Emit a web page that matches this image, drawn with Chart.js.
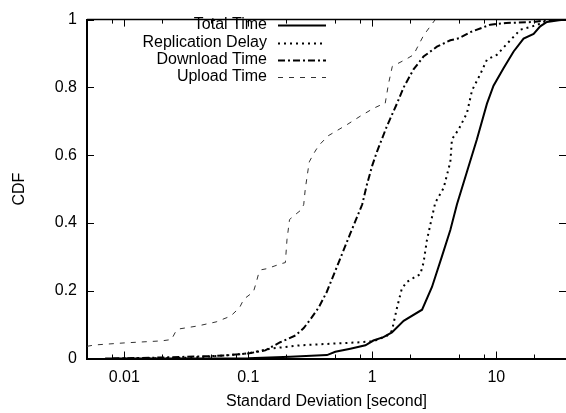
<!DOCTYPE html>
<html>
<head>
<meta charset="utf-8">
<script src="https://cdn.jsdelivr.net/npm/chart.js@4.4.1/dist/chart.umd.min.js"></script>
<style>
  html, body { margin: 0; padding: 0; background: #fff; overflow: hidden; }
  #wrap { width: 566px; height: 413px; position: relative; }
</style>
</head>
<body>
<div id="wrap"><canvas id="c" width="566" height="413"></canvas></div>
<script>
// ---- Data ----
const seriesNames = ["Total Time", "Replication Delay", "Download Time", "Upload Time"];

const totalX = [0.007, 0.1, 0.218, 0.431, 0.503, 0.665, 0.88, 1.02, 1.23, 1.44, 1.79, 2.52, 3.03, 3.65, 4.26, 4.82, 5.8, 6.98, 8.41, 9.5, 11.5, 13.8, 16.6, 20, 22.6, 25.6, 32, 36.5];
const totalY = [0, 0.001, 0.005, 0.01, 0.02, 0.029, 0.039, 0.053, 0.063, 0.077, 0.111, 0.144, 0.211, 0.302, 0.379, 0.455, 0.551, 0.647, 0.752, 0.805, 0.858, 0.906, 0.944, 0.958, 0.98, 0.993, 0.998, 1];

const replX = [0.01, 0.03, 0.05, 0.07, 0.1, 0.15, 0.263, 0.49, 0.8, 1.02, 1.31, 1.44, 1.58, 1.73, 1.9, 2.2, 2.44, 2.59, 2.76, 3.03, 3.22, 3.76, 4.26, 4.39, 4.97, 5.8, 6.37, 7.43, 8.41, 10.1, 12.6, 15.6, 21.3, 24, 30, 36.5];
const replY = [0, 0.002, 0.006, 0.01, 0.015, 0.029, 0.039, 0.044, 0.048, 0.051, 0.067, 0.082, 0.149, 0.206, 0.226, 0.24, 0.249, 0.283, 0.35, 0.417, 0.46, 0.503, 0.58, 0.647, 0.676, 0.724, 0.791, 0.839, 0.882, 0.896, 0.934, 0.97, 0.984, 0.993, 0.999, 1];

const downX = [0.008, 0.02, 0.05, 0.07, 0.1, 0.137, 0.181, 0.24, 0.28, 0.316, 0.369, 0.43, 0.535, 0.665, 0.83, 0.9, 1.0, 1.09, 1.31, 1.58, 1.79, 2.15, 2.59, 3.32, 4.26, 5, 6.17, 8.95, 12, 20, 25, 36.5];
const downY = [0, 0.003, 0.007, 0.01, 0.015, 0.024, 0.048, 0.068, 0.09, 0.115, 0.15, 0.197, 0.283, 0.369, 0.455, 0.51, 0.57, 0.61, 0.685, 0.752, 0.8, 0.853, 0.891, 0.92, 0.939, 0.945, 0.963, 0.985, 0.99, 0.993, 0.998, 1];

const upX = [0.005, 0.0058, 0.01, 0.02, 0.024, 0.026, 0.0274, 0.039, 0.055, 0.072, 0.085, 0.092, 0.11, 0.115, 0.121, 0.128, 0.141, 0.185, 0.199, 0.205, 0.215, 0.24, 0.27, 0.28, 0.288, 0.31, 0.336, 0.369, 0.44, 0.625, 0.8, 1.02, 1.2, 1.27, 1.35, 1.45, 1.85, 2.15, 2.4, 2.59, 3.0, 3.22];
const upY = [0.036, 0.04, 0.046, 0.052, 0.056, 0.08, 0.087, 0.096, 0.108, 0.125, 0.15, 0.175, 0.197, 0.22, 0.25, 0.262, 0.265, 0.28, 0.283, 0.35, 0.41, 0.425, 0.44, 0.455, 0.5, 0.58, 0.604, 0.628, 0.657, 0.69, 0.715, 0.738, 0.75, 0.752, 0.81, 0.862, 0.882, 0.896, 0.93, 0.953, 0.985, 1];

const xMajorTicks = [0.01, 0.1, 1, 10];
const xMinorTicks = [0.008, 0.02, 0.05, 0.08, 0.2, 0.5, 0.8, 2, 5, 8, 20];
const yTicks = [0, 0.2, 0.4, 0.6, 0.8, 1];
const xMin = 0.005, xMax = 36.5;

const xTitle = "Standard Deviation [second]";
const yTitle = "CDF";

// ---- Build ----
const FONT = "'Liberation Sans', Arial, Helvetica, sans-serif";
function pts(xs, ys) { return xs.map((x, i) => ({ x: x, y: ys[i] })); }

const styles = [
  { borderColor: '#000', borderWidth: 2, borderDash: [] },
  { borderColor: '#000', borderWidth: 2, borderDash: [2, 4] },
  { borderColor: '#000', borderWidth: 2, borderDash: [7, 3, 2, 3] },
  { borderColor: '#333', borderWidth: 1, borderDash: [5, 6] }
];
const rawData = [[totalX, totalY], [replX, replY], [downX, downY], [upX, upY]];

const datasets = rawData.map((d, i) => Object.assign({
  label: seriesNames[i],
  data: pts(d[0], d[1]),
  pointRadius: 0,
  tension: 0,
  fill: false
}, styles[i]));

const gnuplotDecor = {
  id: 'gnuplotDecor',
  afterDatasetsDraw(chart) {
    const { ctx, chartArea: a, scales: { x, y } } = chart;
    ctx.save();
    ctx.strokeStyle = '#000';
    ctx.lineWidth = 1.5;
    // top border
    ctx.beginPath();
    ctx.moveTo(a.left, a.top);
    ctx.lineTo(a.right, a.top);
    ctx.stroke();
    // x ticks (inward, mirrored)
    ctx.lineWidth = 1;
    const drawX = (vals, len) => {
      vals.forEach(v => {
        const px = Math.round(x.getPixelForValue(v)) + 0.5;
        ctx.beginPath();
        ctx.moveTo(px, a.bottom); ctx.lineTo(px, a.bottom - len);
        ctx.moveTo(px, a.top); ctx.lineTo(px, a.top + len);
        ctx.stroke();
      });
    };
    drawX(xMajorTicks, 7);
    drawX(xMinorTicks, 4);
    // y ticks (inward, mirrored)
    yTicks.forEach(v => {
      const py = Math.round(y.getPixelForValue(v)) + 0.5;
      ctx.beginPath();
      ctx.moveTo(a.left, py); ctx.lineTo(a.left + 7, py);
      ctx.moveTo(a.right, py); ctx.lineTo(a.right - 7, py);
      ctx.stroke();
    });
    // legend (gnuplot style: right-aligned text, sample on the right)
    ctx.font = '16px ' + FONT;
    ctx.fillStyle = '#000';
    ctx.textAlign = 'right';
    ctx.textBaseline = 'middle';
    const textRight = 267, s0 = 278, s1 = 326;
    const rowY = [25, 43, 60, 77];
    chart.data.datasets.forEach((ds, i) => {
      ctx.fillText(ds.label, textRight, rowY[i]);
      ctx.save();
      ctx.strokeStyle = ds.borderColor;
      ctx.lineWidth = ds.borderWidth;
      ctx.setLineDash(ds.borderDash || []);
      ctx.beginPath();
      ctx.moveTo(s0, rowY[i] + 0.5);
      ctx.lineTo(s1, rowY[i] + 0.5);
      ctx.stroke();
      ctx.restore();
    });
    ctx.restore();
  }
};

new Chart(document.getElementById('c'), {
  type: 'line',
  data: { datasets: datasets },
  options: {
    responsive: false,
    animation: false,
    events: [],
    layout: { padding: { top: 10, right: 0, left: 0, bottom: 0 } },
    plugins: { legend: { display: false }, tooltip: { enabled: false } },
    scales: {
      x: {
        type: 'logarithmic',
        min: xMin,
        max: xMax,
        afterBuildTicks(axis) {
          axis.ticks = xMinorTicks.concat(xMajorTicks).sort((a, b) => a - b).map(v => ({ value: v }));
        },
        afterFit(axis) { axis.height = 54.5; },
        grid: { display: false, drawTicks: false },
        border: { display: true, color: '#000', width: 2 },
        ticks: {
          autoSkip: false,
          maxRotation: 0,
          padding: 9,
          color: '#000',
          font: { family: FONT, size: 16 },
          callback: (v) => xMajorTicks.includes(v) ? String(v) : ''
        },
        title: {
          display: true,
          text: xTitle,
          color: '#000',
          font: { family: FONT, size: 16 },
          padding: { top: 0, bottom: 2 }
        }
      },
      y: {
        min: 0,
        max: 1,
        afterBuildTicks(axis) {
          axis.ticks = yTicks.map(v => ({ value: v }));
        },
        afterFit(axis) { axis.width = 87; },
        grid: { display: false, drawTicks: false },
        border: { display: true, color: '#000', width: 2 },
        ticks: {
          padding: 10,
          color: '#000',
          font: { family: FONT, size: 16 },
          callback: (v) => String(v)
        },
        title: {
          display: true,
          text: yTitle,
          color: '#000',
          font: { family: FONT, size: 16 },
          padding: { top: 9.5, bottom: 0 }
        }
      }
    }
  },
  plugins: [gnuplotDecor]
});
</script>
</body>
</html>
